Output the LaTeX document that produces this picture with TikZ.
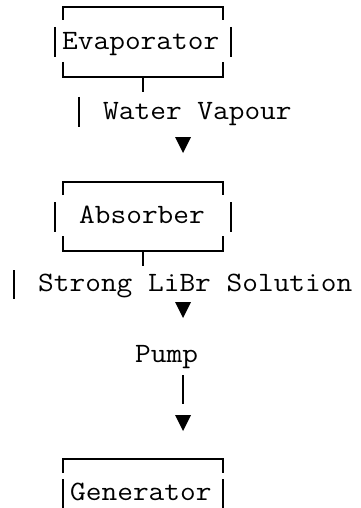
\documentclass[tikz,border=0pt]{standalone}
\usepackage{fontspec}
\usepackage{graphicx}
\newcommand{\wide}[1]{\scalebox{1.089}[1]{#1}}
\begin{document}
\begin{tikzpicture}[x=1pt,y=-1pt,
  lbl/.style={anchor=base west,inner sep=0pt,font=\ttfamily\fontsize{28}{30}\selectfont},
  ln/.style={line width=1.8pt,line cap=butt},
  tip/.style={fill=black,draw=none}]
\useasboundingbox (0,0) rectangle (360,508);
% Evaporator
\draw[ln] (63,20) -- (63,7) -- (223,7) -- (223,20);
\draw[ln] (55,27) -- (55,57);
\draw[ln] (231,27) -- (231,57);
\node[lbl] (evap) at (62,50) {\wide{Evaporator}};
\draw[ln] (63,62) -- (63,77) -- (223,77) -- (223,62);
\draw[ln] (143,77) -- (143,92);
\draw[ln] (79,97) -- (79,127);
\node[lbl] (wv) at (103,119) {\wide{Water Vapour}};
\fill[tip] (175,137) -- (191,137) -- (183,153) -- cycle;
% Absorber
\draw[ln] (63,195) -- (63,182) -- (223,182) -- (223,195);
\draw[ln] (55,202) -- (55,232);
\draw[ln] (231,202) -- (231,232);
\node[lbl] (abs) at (79,223) {\wide{Absorber}};
\draw[ln] (63,236) -- (63,251) -- (223,251) -- (223,236);
\draw[ln] (143,251) -- (143,266);
\draw[ln] (14,270) -- (14,299);
\node[lbl] (sol) at (38,291) {\wide{Strong LiBr Solution}};
\fill[tip] (175,302) -- (191,302) -- (183,318) -- cycle;
% Pump
\node[lbl] (pump) at (135,362) {\wide{Pump}};
\draw[ln] (183,375) -- (183,404);
\fill[tip] (175,415) -- (191,415) -- (183,431) -- cycle;
% Generator
\draw[ln] (63,473) -- (63,459) -- (223,459) -- (223,473);
\draw[ln] (63,479) -- (63,510);
\draw[ln] (223,479) -- (223,510);
\node[lbl] (gen) at (70,500) {\wide{Generator}};
\end{tikzpicture}
\end{document}
